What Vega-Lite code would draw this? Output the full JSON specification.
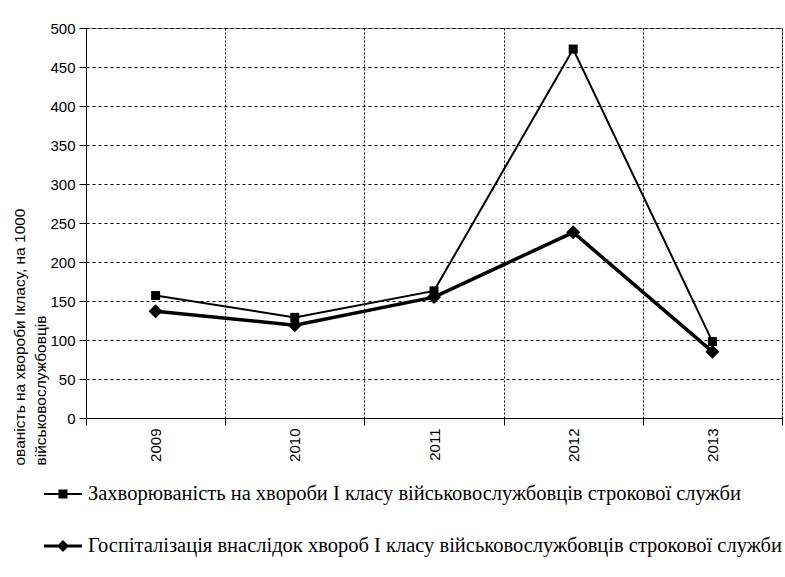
{
  "$schema": "https://vega.github.io/schema/vega-lite/v6.json",
  "width": 696,
  "height": 390,
  "autosize": {"type": "none"},
  "padding": {"left": 86, "top": 28, "right": 3, "bottom": 159},
  "background": "white",
  "config": {
    "view": {"stroke": "#808080", "strokeWidth": 1},
    "font": "Liberation Sans"
  },
  "data": {
    "values": [
      {"year": "2009", "series": "Захворюваність на хвороби І класу військовослужбовців строкової служби", "value": 157},
      {"year": "2010", "series": "Захворюваність на хвороби І класу військовослужбовців строкової служби", "value": 129},
      {"year": "2011", "series": "Захворюваність на хвороби І класу військовослужбовців строкової служби", "value": 163},
      {"year": "2012", "series": "Захворюваність на хвороби І класу військовослужбовців строкової служби", "value": 473},
      {"year": "2013", "series": "Захворюваність на хвороби І класу військовослужбовців строкової служби", "value": 98},
      {"year": "2009", "series": "Госпіталізація внаслідок хвороб І класу військовослужбовців  строкової служби", "value": 137},
      {"year": "2010", "series": "Госпіталізація внаслідок хвороб І класу військовослужбовців  строкової служби", "value": 119},
      {"year": "2011", "series": "Госпіталізація внаслідок хвороб І класу військовослужбовців  строкової служби", "value": 155},
      {"year": "2012", "series": "Госпіталізація внаслідок хвороб І класу військовослужбовців  строкової служби", "value": 238},
      {"year": "2013", "series": "Госпіталізація внаслідок хвороб І класу військовослужбовців  строкової служби", "value": 85}
    ]
  },
  "encoding": {
    "x": {
      "field": "year",
      "type": "ordinal",
      "scale": {"type": "band", "paddingInner": 0, "paddingOuter": 0},
      "axis": {
        "title": null,
        "labelAngle": -90,
        "labelFont": "Liberation Sans",
        "labelFontSize": 15,
        "labelColor": "black",
        "labelPadding": 3,
        "tickBand": "extent",
        "tickSize": 7,
        "tickColor": "black",
        "domainColor": "black",
        "grid": true,
        "gridColor": "black",
        "gridDash": [2, 2],
        "gridWidth": 1
      }
    },
    "y": {
      "field": "value",
      "type": "quantitative",
      "scale": {"domain": [0, 500], "nice": false},
      "axis": {
        "title": ["ованість на хвороби Ікласу, на 1000", "\u00a0\u00a0\u00a0\u00a0\u00a0\u00a0\u00a0\u00a0військовослужбовців"],
        "titleFont": "Liberation Sans",
        "titleFontSize": 15.5,
        "titleFontWeight": "normal",
        "titleColor": "black",
        "titleAngle": 270,
        "titleAlign": "left",
        "titleBaseline": "bottom",
        "titleX": -59,
        "titleY": 437,
        "titleLineHeight": 21,
        "values": [0, 50, 100, 150, 200, 250, 300, 350, 400, 450, 500],
        "labelFont": "Liberation Sans",
        "labelFontSize": 15,
        "labelColor": "black",
        "labelPadding": 4,
        "tickSize": 7,
        "tickColor": "black",
        "domainColor": "black",
        "grid": true,
        "gridColor": "black",
        "gridDash": [3, 3],
        "gridWidth": 1
      }
    }
  },
  "layer": [
    {
      "transform": [{"filter": "datum.series === 'Захворюваність на хвороби І класу військовослужбовців строкової служби'"}],
      "mark": {"type": "line", "color": "black", "strokeWidth": 2},
      "encoding": {}
    },
    {
      "transform": [{"filter": "datum.series !== 'Захворюваність на хвороби І класу військовослужбовців строкової служби'"}],
      "mark": {"type": "line", "color": "black", "strokeWidth": 3.5},
      "encoding": {}
    },
    {
      "transform": [{"filter": "datum.series !== 'Захворюваність на хвороби І класу військовослужбовців строкової служби'"}],
      "mark": {"type": "point", "filled": true, "color": "black", "opacity": 1, "size": 196, "shape": "diamond"},
      "encoding": {}
    },
    {
      "transform": [{"filter": "datum.series === 'Захворюваність на хвороби І класу військовослужбовців строкової служби'"}],
      "mark": {"type": "point", "filled": true, "color": "black", "opacity": 1, "size": 81, "shape": "square"},
      "encoding": {}
    },
    {
      "mark": {"type": "point", "filled": true, "color": "black", "opacity": 0, "size": 1},
      "encoding": {
        "shape": {
          "field": "series",
          "type": "nominal",
          "scale": {
            "domain": ["Захворюваність на хвороби І класу військовослужбовців строкової служби", "Госпіталізація внаслідок хвороб І класу військовослужбовців  строкової служби"],
            "range": [
              "M-1,-0.053L1,-0.053L1,0.053L-1,0.053Z M-0.237,-0.237L0.237,-0.237L0.237,0.237L-0.237,0.237Z",
              "M-1,-0.08L1,-0.08L1,0.08L-1,0.08Z M0,-0.316L0.316,0L0,0.316L-0.316,0Z"
            ]
          },
          "legend": {
            "title": null,
            "orient": "none",
            "legendX": -42,
            "legendY": 447,
            "direction": "vertical",
            "padding": 0,
            "symbolSize": 1444,
            "symbolStrokeWidth": 0,
            "symbolFillColor": "black",
            "symbolOpacity": 1,
            "labelFont": "Liberation Serif",
            "labelFontSize": 20.5,
            "labelColor": "black",
            "labelLimit": 0,
            "labelOffset": 6,
            "rowPadding": 22,
            "encode": {
              "symbols": {
                "update": {
                  "size": {"value": 1444},
                  "fill": {"value": "black"},
                  "opacity": {"value": 1},
                  "fillOpacity": {"value": 1},
                  "strokeWidth": {"value": 0}
                }
              }
            }
          }
        }
      }
    }
  ]
}
